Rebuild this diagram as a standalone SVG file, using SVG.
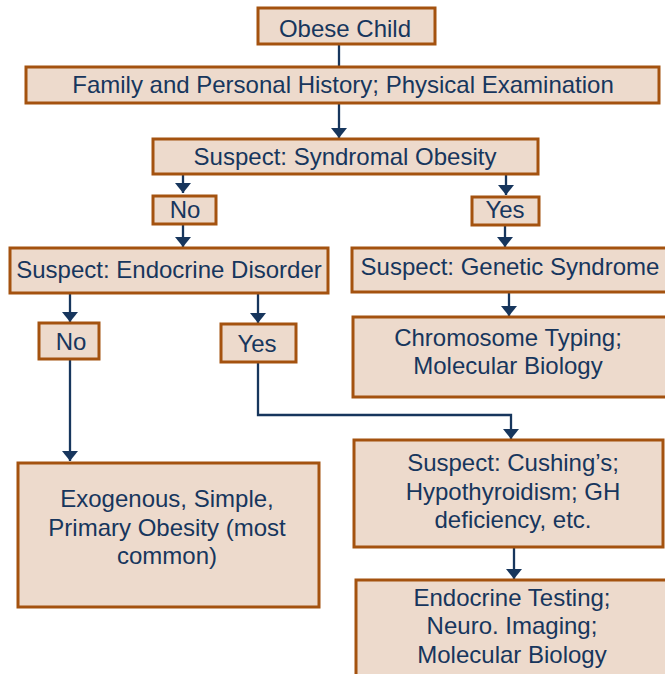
<svg xmlns="http://www.w3.org/2000/svg" width="665" height="674" viewBox="0 0 665 674">
<style>
.box{fill:#EDDACC;stroke:#A4520F;stroke-width:3}
.t{font-family:"Liberation Sans",Arial,sans-serif;font-size:24px;fill:#17365D;text-anchor:middle}
.c{fill:none;stroke:#17365D;stroke-width:2.3}
</style>
<defs>
<marker id="ah" markerUnits="userSpaceOnUse" markerWidth="10" markerHeight="16" viewBox="0 0 10 16" refX="10" refY="8" orient="auto">
<path d="M0,0 L10,8 L0,16 z" fill="#17365D"/>
</marker>
</defs>
<rect width="665" height="674" fill="#fff"/>
<g id="connectors">
<path class="c" d="M339,44 V67"/>
<path class="c" d="M339,103 V138" marker-end="url(#ah)"/>
<path class="c" d="M183,174 V193" marker-end="url(#ah)"/>
<path class="c" d="M506,174 V195" marker-end="url(#ah)"/>
<path class="c" d="M183,224 V247" marker-end="url(#ah)"/>
<path class="c" d="M505,225 V247" marker-end="url(#ah)"/>
<path class="c" d="M70,293 V322" marker-end="url(#ah)"/>
<path class="c" d="M258,293 V323" marker-end="url(#ah)"/>
<path class="c" d="M509,292 V316" marker-end="url(#ah)"/>
<path class="c" d="M70,359 V461" marker-end="url(#ah)"/>
<path class="c" d="M258,362 V415 H511 V439" marker-end="url(#ah)"/>
<path class="c" d="M514,547 V579" marker-end="url(#ah)"/>
</g>
<g id="obese-child"><rect class="box" x="258" y="8" width="177" height="36"/><text class="t" x="345" y="37">Obese Child</text></g>
<g id="history"><rect class="box" x="26" y="67" width="633" height="36"/><text class="t" x="343" y="93">Family and Personal History; Physical Examination</text></g>
<g id="syndromal"><rect class="box" x="153" y="139" width="385" height="35"/><text class="t" x="345" y="165">Suspect: Syndromal Obesity</text></g>
<g id="no1"><rect class="box" x="153" y="196" width="63" height="28"/><text class="t" x="185" y="218">No</text></g>
<g id="yes1"><rect class="box" x="472" y="197" width="67" height="28"/><text class="t" x="505" y="218">Yes</text></g>
<g id="endocrine"><rect class="box" x="10" y="248" width="318" height="45"/><text class="t" x="169" y="278">Suspect: Endocrine Disorder</text></g>
<g id="genetic"><rect class="box" x="352" y="248" width="316" height="44"/><text class="t" x="510" y="275">Suspect: Genetic Syndrome</text></g>
<g id="no2"><rect class="box" x="39" y="323" width="60" height="36"/><text class="t" x="71" y="350">No</text></g>
<g id="yes2"><rect class="box" x="221" y="324" width="75" height="38"/><text class="t" x="257" y="352">Yes</text></g>
<g id="chromosome"><rect class="box" x="353" y="317" width="315" height="80"/><text class="t" x="508" y="346">Chromosome Typing;</text><text class="t" x="508" y="374">Molecular Biology</text></g>
<g id="exogenous"><rect class="box" x="18" y="463" width="301" height="144"/><text class="t" x="167" y="507">Exogenous, Simple,</text><text class="t" x="167" y="536">Primary Obesity (most</text><text class="t" x="167" y="564">common)</text></g>
<g id="cushing"><rect class="box" x="354" y="440" width="309" height="107"/><text class="t" x="513" y="471">Suspect: Cushing’s;</text><text class="t" x="513" y="500">Hypothyroidism; GH</text><text class="t" x="513" y="528">deficiency, etc.</text></g>
<g id="endocrine-testing"><rect class="box" x="356" y="580" width="312" height="100"/><text class="t" x="512" y="606">Endocrine Testing;</text><text class="t" x="512" y="634">Neuro. Imaging;</text><text class="t" x="512" y="663">Molecular Biology</text></g>
</svg>
